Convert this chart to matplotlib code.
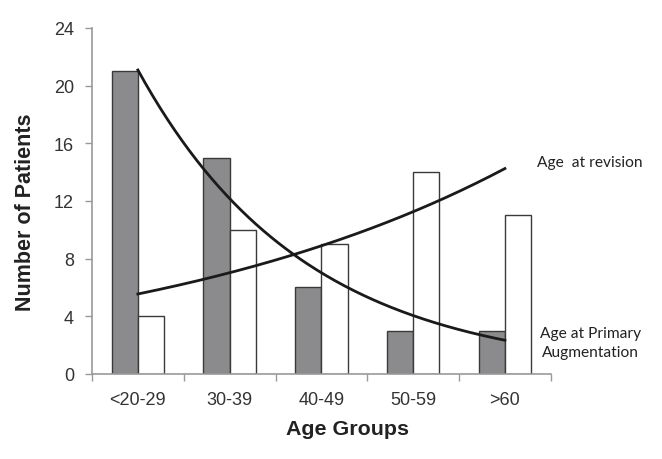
import numpy as np
import matplotlib.pyplot as plt

# data
age_groups = ["<20-29", "30-39", "40-49", "50-59", ">60"]
primary = [21, 15, 6, 3, 3]      # age at primary augmentation (grey)
revision = [4, 10, 9, 14, 11]    # age at revision (white)

x = np.arange(len(age_groups))
w = 0.285

fig = plt.figure(figsize=(6.62, 4.6), dpi=100)
ax = fig.add_axes([0.139, 0.185, 0.693, 0.752])

ax.bar(x - w / 2, primary, w, color="#8b8b8d", edgecolor="#3a3a3a", linewidth=1.0, zorder=2)
ax.bar(x + w / 2, revision, w, color="white", edgecolor="#3a3a3a", linewidth=1.0, zorder=2)

# exponential trendlines (fitted like a spreadsheet "exponential" trendline)
xs = np.linspace(0, len(age_groups) - 1, 200)
for vals in (primary, revision):
    b, a = np.polyfit(x, np.log(vals), 1)
    ax.plot(xs, np.exp(a + b * xs), color="#1a1a1a", lw=2.0, zorder=3)

ax.set_xlim(-0.5, len(age_groups) - 0.5)
ax.set_ylim(0, 24)
ax.set_yticks(range(0, 25, 4))
ax.set_xticks(x)
ax.set_xticklabels(age_groups)
ax.set_xticks(np.arange(-0.5, len(age_groups)), minor=True)
ax.tick_params(axis="x", which="major", length=0, pad=12)
ax.tick_params(axis="x", which="minor", length=5, color="#999999", width=1)
ax.tick_params(axis="y", length=5, color="#999999", width=1, pad=8)
ax.tick_params(labelsize=13, labelcolor="#333333")
for lab in ax.get_xticklabels() + ax.get_yticklabels():
    lab.set_family("Liberation Sans")

for s in ("top", "right"):
    ax.spines[s].set_visible(False)
for s in ("left", "bottom"):
    ax.spines[s].set_color("#999999")
    ax.spines[s].set_linewidth(1.2)

ax.set_xlabel("Age Groups", fontsize=15.4, fontweight="bold", family="Liberation Sans",
              color="#222222", va="center")
ax.set_ylabel("Number of Patients", fontsize=15.5, fontweight="bold", family="Liberation Sans",
              color="#222222", va="center")
ax.xaxis.set_label_coords(0.556, -0.159)
ax.yaxis.set_label_coords(-0.146, 0.471)

ax.text(0.969, 14.7, "Age  at revision", transform=ax.get_yaxis_transform(),
        fontsize=11.2, family="Lato", color="#222222", va="center", ha="left")
ax.text(1.086, 2.2, "Age at Primary\nAugmentation", transform=ax.get_yaxis_transform(),
        fontsize=11.2, family="Lato", color="#222222", va="center", ha="center",
        multialignment="center", linespacing=1.45)

fig.savefig("out.png", dpi=100)
